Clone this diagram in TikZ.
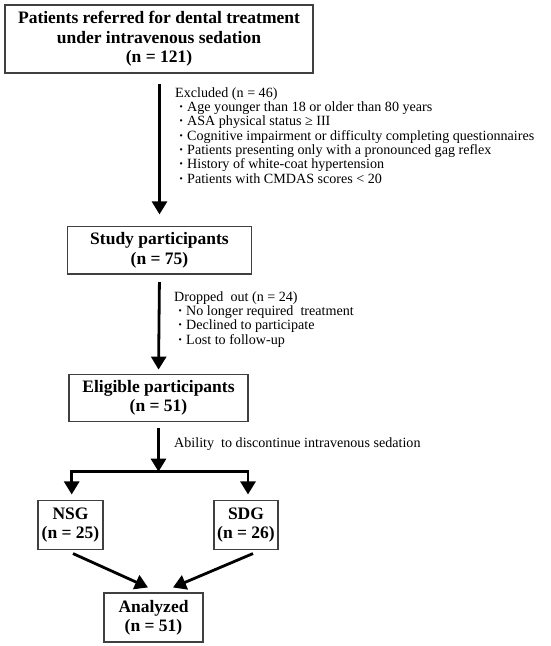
\documentclass[tikz,border=0pt]{standalone}
\usepackage{fontspec}
\setmainfont{Liberation Serif}
\usetikzlibrary{arrows.meta}
\begin{document}
\begin{tikzpicture}[x=1pt,y=-1pt,
  box/.style={draw=black!75, line width=1.1pt, inner sep=0pt, align=center,
    font=\bfseries\fontsize{17.5}{19.4}\selectfont},
  arr/.style={line width=2.8pt, -{Triangle[length=13pt,width=15pt]}},
  note/.style={anchor=base west, inner sep=0pt, align=left,
    font=\fontsize{14.1}{14.3}\selectfont}]
\useasboundingbox (0,0) rectangle (550,646);
\newcommand{\bu}{\makebox[12pt][c]{\bfseries ·}}
\node[box, minimum width=308pt, minimum height=68pt] (top) at (159,39)
  {Patients referred for dental treatment\\under intravenous sedation\\(n = 121)};
\node[box, minimum width=183.5pt, minimum height=47.3pt] (study) at (159.5,250.3)
  {Study participants\\(n = 75)};
\node[box, minimum width=179pt, minimum height=47.7pt] (elig) at (158.5,398)
  {Eligible participants\\(n = 51)};
\node[box, minimum width=65pt, minimum height=48.6pt] (nsg) at (70.5,525)
  {NSG\\(n = 25)};
\node[box, minimum width=64pt, minimum height=48.6pt] (sdg) at (246,525)
  {SDG\\(n = 26)};
\node[box, minimum width=99pt, minimum height=49pt] (ana) at (153.5,617.5)
  {Analyzed\\(n = 51)};
% anchor = baseline of the last line
\node[note] (excl) at (175,183.1)
  {Excluded (n = 46)\\
   \bu Age younger than 18 or older than 80 years\\
   \bu ASA physical status ≥ III\\
   \bu Cognitive impairment or difficulty completing questionnaires\\
   \bu Patients presenting only with a pronounced gag reflex\\
   \bu History of white-coat hypertension\\
   \bu Patients with CMDAS scores < 20};
\node[note] (drop) at (174,344)
  {Dropped\ \ out (n = 24)\\
   \bu No longer required\ \ treatment\\
   \bu Declined to participate\\
   \bu Lost to follow-up};
\node[note] (abil) at (174,447)
  {Ability\ \ to discontinue intravenous sedation};
\coordinate (sl) at (71.7,471.7);
\coordinate (sr) at (248,471.7);
\draw[arr, shorten <=10pt, shorten >=11.7pt] (top.south -| study.north) -- (study.north);
\draw[arr, shorten <=7.7pt, shorten >=4pt] (study.south) -- (elig.north);
\draw[arr, shorten <=6pt] (elig.south) -- (elig.south |- sl);
\draw[arr, shorten >=5.7pt] (elig.south |- sl) -| (sl |- nsg.north);
\draw[arr, shorten >=5.7pt] (elig.south |- sl) -| (sr |- sdg.north);
\draw[arr] ([xshift=2.5pt,yshift=-3.7pt]nsg.south) -- ([xshift=-5.5pt,yshift=5pt]ana.north);
\draw[arr] ([xshift=7pt,yshift=-3.7pt]sdg.south) -- ([xshift=19.5pt,yshift=5pt]ana.north);
\end{tikzpicture}
\end{document}
